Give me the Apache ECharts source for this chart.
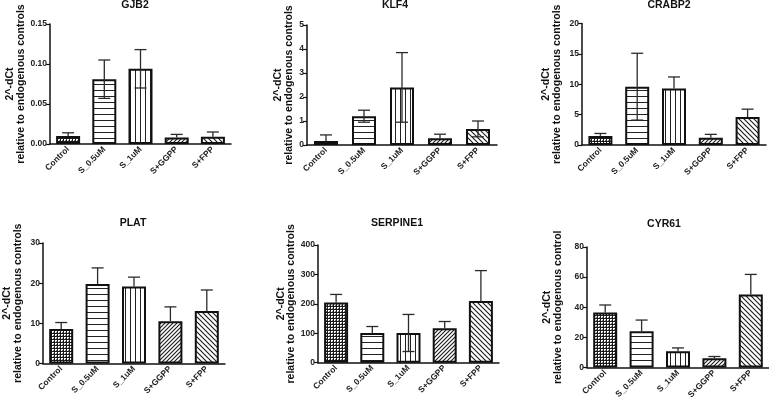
<!DOCTYPE html>
<html>
<head>
<meta charset="utf-8">
<script src="https://cdn.jsdelivr.net/npm/echarts@6/dist/echarts.min.js"></script>
<style>
html,body{margin:0;padding:0;background:#fff;}
#chart{width:769px;height:405px;}
</style>
</head>
<body>
<div id="chart"></div>
<script>
// ---------- DATA ----------
const categories = ['Control', 'S_0.5uM', 'S_1uM', 'S+GGPP', 'S+FPP'];
const panelTitles = ['GJB2', 'KLF4', 'CRABP2', 'PLAT', 'SERPINE1', 'CYR61'];
const yNameTop = '2^-dCt';
const yNameBottom = ['relative to endogenous controls', 'relative to endogenous controls',
  'relative to endogenous controls', 'relative to endogenous controls',
  'relative to endogenous controls', 'relative to endogenous control'];

const gjb2Mean = [0.010, 0.081, 0.094, 0.008, 0.009];
const gjb2Err = [0.004, 0.024, 0.024, 0.004, 0.006];
const gjb2Ticks = [0, 0.05, 0.10, 0.15];

const klf4Mean = [0.17, 1.20, 2.40, 0.28, 0.67];
const klf4Err = [0.25, 0.25, 1.45, 0.17, 0.33];
const klf4Ticks = [0, 1, 2, 3, 4, 5];

const crabp2Mean = [1.5, 9.6, 9.3, 1.2, 4.6];
const crabp2Err = [0.4, 5.5, 1.9, 0.55, 1.3];
const crabp2Ticks = [0, 5, 10, 15, 20];

const platMean = [8.6, 19.8, 19.2, 10.5, 13.1];
const platErr = [1.6, 4.0, 2.3, 3.6, 5.2];
const platTicks = [0, 10, 20, 30];

const serpine1Mean = [205, 101, 101, 117, 210];
const serpine1Err = [27, 22, 63, 23, 103];
const serpine1Ticks = [0, 100, 200, 300, 400];

const cyr61Mean = [36.5, 24, 10.8, 6.2, 48.5];
const cyr61Err = [5, 7.5, 2.2, 1.1, 13.3];
const cyr61Ticks = [0, 20, 40, 60, 80];

const panelMeans = [gjb2Mean, klf4Mean, crabp2Mean, platMean, serpine1Mean, cyr61Mean];
const panelErrs = [gjb2Err, klf4Err, crabp2Err, platErr, serpine1Err, cyr61Err];
const panelTicks = [gjb2Ticks, klf4Ticks, crabp2Ticks, platTicks, serpine1Ticks, cyr61Ticks];
const tickDecimals = [2, 0, 0, 0, 0, 0];

// ---------- LAYOUT / STYLE ----------
const layout = [
  {l: 50,  r: 231, t: 24,  b: 144, gap: 24, tx: 135, ty: 0},
  {l: 307, r: 497, t: 25,  b: 145, gap: 13, tx: 395, ty: 0},
  {l: 582, r: 766, t: 23.5,b: 145, gap: 20, tx: 669, ty: 0},
  {l: 43,  r: 225, t: 243, b: 363.5, gap: 20, tx: 133, ty: 218},
  {l: 318, r: 499, t: 245, b: 362.7, gap: 15, tx: 397, ty: 218},
  {l: 587, r: 769, t: 247, b: 367.5, gap: 24, tx: 664, ty: 219}
];
// which bars show the lower whisker through their fill
const lowerVisible = [[1, 2], [1, 2, 4], [1], [], [2], []];

const FONT = '"Liberation Sans", Arial, sans-serif';

// ---------- PATTERNS ----------
function mk(w, h, draw) {
  const c = document.createElement('canvas');
  c.width = w; c.height = h;
  const ctx = c.getContext('2d');
  ctx.fillStyle = '#fff';
  ctx.fillRect(0, 0, w, h);
  draw(ctx, w, h);
  return {image: c, repeat: 'repeat'};
}
const patCross = mk(3, 3, (ctx) => {
  ctx.fillStyle = '#1a1a1a';
  ctx.fillRect(0, 0, 3, 1);
  ctx.fillRect(0, 0, 1, 3);
  ctx.fillStyle = '#777';
  ctx.fillRect(2, 2, 1, 1);
});
const patHoriz = mk(4, 6, (ctx) => {
  ctx.fillStyle = '#222';
  ctx.fillRect(0, 0, 4, 1);
});
const patVert = mk(5, 4, (ctx) => {
  ctx.fillStyle = '#222';
  ctx.fillRect(0, 0, 1, 4);
});
function diag(n, forward) {
  return mk(n, n, (ctx, w, h) => {
    ctx.strokeStyle = '#1a1a1a';
    ctx.lineWidth = 1.1;
    ctx.beginPath();
    if (forward) {
      ctx.moveTo(-1, n + 1); ctx.lineTo(n + 1, -1);
      ctx.moveTo(-1, 1); ctx.lineTo(1, -1);
      ctx.moveTo(n - 1, n + 1); ctx.lineTo(n + 1, n - 1);
    } else {
      ctx.moveTo(-1, -1); ctx.lineTo(n + 1, n + 1);
      ctx.moveTo(n - 1, -1); ctx.lineTo(n + 1, 1);
      ctx.moveTo(-1, n - 1); ctx.lineTo(1, n + 1);
    }
    ctx.stroke();
  });
}
const patFwd = diag(4, true);
const patBack = diag(5, false);
const barPatterns = [patCross, patHoriz, patVert, patFwd, patBack];

// ---------- OPTION ----------
const grids = [], xAxes = [], yAxes = [], series = [], graphics = [];

layout.forEach((p, i) => {
  const ticks = panelTicks[i];
  grids.push({left: p.l, top: p.t, width: p.r - p.l, height: p.b - p.t});
  xAxes.push({
    gridIndex: i, type: 'category', data: categories,
    axisLine: {lineStyle: {color: '#111', width: 1.5}},
    axisTick: {alignWithLabel: true, length: 4, lineStyle: {color: '#111', width: 1.2}},
    axisLabel: {rotate: 45, interval: 0, margin: 4, color: '#222', fontFamily: FONT,
      fontWeight: 'bold', fontSize: 8.5}
  });
  yAxes.push({
    gridIndex: i, type: 'value',
    min: ticks[0], max: ticks[ticks.length - 1], interval: ticks[1] - ticks[0],
    splitLine: {show: false},
    axisLine: {show: true, lineStyle: {color: '#111', width: 1.5}},
    axisTick: {show: true, length: 4, lineStyle: {color: '#111', width: 1.2}},
    axisLabel: {margin: 3, color: '#222', fontFamily: FONT, fontWeight: 'bold', fontSize: 8.5,
      formatter: (v) => v.toFixed(tickDecimals[i])},
    name: yNameTop + '\n' + yNameBottom[i],
    nameLocation: 'middle', nameRotate: 90, nameGap: p.gap,
    nameTextStyle: {color: '#111', fontFamily: FONT, fontWeight: 'bold', fontSize: 10.5, lineHeight: 10.5}
  });
  const means = panelMeans[i], errs = panelErrs[i];
  series.push({
    type: 'bar', xAxisIndex: i, yAxisIndex: i, z: 2, barWidth: 24, silent: true,
    data: means.map((m, k) => ({value: m, itemStyle: {color: barPatterns[k]}})),
    itemStyle: {borderColor: '#111', borderWidth: 2}
  });
  series.push({
    type: 'custom', xAxisIndex: i, yAxisIndex: i, z: 3, silent: true,
    data: means.map((m, k) => [k, m, errs[k]]),
    renderItem: (params, api) => {
      const k = api.value(0), m = api.value(1), s = api.value(2);
      const showLow = lowerVisible[i].indexOf(k) >= 0;
      const lo = showLow ? Math.max(ticks[0], m - s) : m;
      const top = api.coord([k, m + s]);
      const bot = api.coord([k, lo]);
      const half = 6;
      const st = {stroke: '#2a2a2a', lineWidth: 1.3};
      const ch = [
        {type: 'line', shape: {x1: top[0], y1: top[1], x2: bot[0], y2: bot[1]}, style: st},
        {type: 'line', shape: {x1: top[0] - half, y1: top[1], x2: top[0] + half, y2: top[1]}, style: st}
      ];
      if (showLow && m - s > ticks[0]) {
        ch.push({type: 'line', shape: {x1: bot[0] - half, y1: bot[1], x2: bot[0] + half, y2: bot[1]}, style: st});
      }
      return {type: 'group', children: ch};
    }
  });
  graphics.push({
    type: 'text', x: p.tx, y: p.ty,
    style: {text: panelTitles[i], fill: '#111', font: 'bold 10.5px ' + FONT,
      textAlign: 'center', textVerticalAlign: 'top'}
  });
});

const chart = echarts.init(document.getElementById('chart'), null, {renderer: 'canvas'});
chart.setOption({
  animation: false,
  backgroundColor: '#fff',
  grid: grids, xAxis: xAxes, yAxis: yAxes, series: series,
  graphic: graphics
});
</script>
</body>
</html>
